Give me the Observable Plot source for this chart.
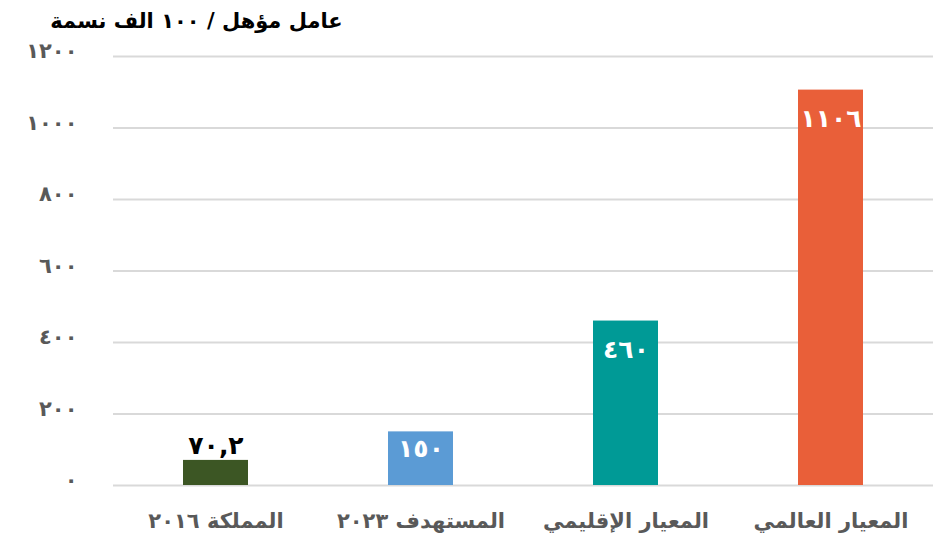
<!DOCTYPE html>
<html>
<head>
<meta charset="utf-8">
<script src="https://cdn.jsdelivr.net/npm/d3@7"></script>
<script src="https://cdn.jsdelivr.net/npm/@observablehq/plot@0.6"></script>
<style>
  html, body { margin: 0; padding: 0; background: #fff; }
  #chart svg { display: block; }
  .ytick text { letter-spacing: 4px; }
  .vlabel text { letter-spacing: 3px; }
</style>
</head>
<body>
<div id="chart"></div>
<script>
const categories = ["المملكة ٢٠١٦", "المستهدف ٢٠٢٣", "المعيار الإقليمي", "المعيار العالمي"];
const values = [70.2, 150, 460, 1106];
const valueLabels = ["٧٠,٢", "١٥٠", "٤٦٠", "١١٠٦"];
const colors = ["#3c5624", "#5b9bd5", "#009a96", "#e95f39"];
const yTicks = [0, 200, 400, 600, 800, 1000, 1200];
const yTickLabels = ["٠", "٢٠٠", "٤٠٠", "٦٠٠", "٨٠٠", "١٠٠٠", "١٢٠٠"];
const title = "عامل مؤهل / ١٠٠ الف نسمة";

const data = categories.map((c, i) => ({ cat: c, value: values[i], label: valueLabels[i], color: colors[i] }));
const font = "'DejaVu Sans', sans-serif";

const chart = Plot.plot({
  width: 933,
  height: 542,
  marginLeft: 113,
  marginRight: 0,
  marginTop: 56,
  marginBottom: 57,
  style: { fontFamily: font, background: "#fff", overflow: "visible" },
  x: { domain: categories, paddingInner: 0.683, paddingOuter: 0.3415, align: 0.5, label: null },
  y: { domain: [0, 1200], label: null },
  marks: [
    Plot.ruleY(yTicks, { stroke: "#d9d9d9", strokeWidth: 2 }),
    Plot.axisY({
      ticks: yTicks,
      tickFormat: d => yTickLabels[yTicks.indexOf(d)],
      tickSize: 0,
      tickPadding: 36,
      dy: -5,
      fontSize: 21,
      fontWeight: "bold",
      fill: "#595959",
      label: null,
      className: "ytick"
    }),
    Plot.axisX({
      tickSize: 0,
      tickPadding: 28,
      fontSize: 21,
      fontWeight: "bold",
      fill: "#595959",
      label: null
    }),
    Plot.barY(data, { x: "cat", y: "value", fill: "color" }),
    Plot.text(data.filter((d, i) => i === 0), {
      x: "cat", y: "value", text: "label",
      lineAnchor: "bottom", dy: -6,
      fontSize: 25, fontWeight: "bold", fill: "#000", className: "vlabel"
    }),
    Plot.text(data.filter((d, i) => i === 1), {
      x: "cat", y: "value", text: "label",
      lineAnchor: "top", dy: 7,
      fontSize: 25, fontWeight: "bold", fill: "#fff", className: "vlabel"
    }),
    Plot.text(data.filter((d, i) => i >= 2), {
      x: "cat", y: "value", text: "label",
      lineAnchor: "top", dy: 19,
      fontSize: 25, fontWeight: "bold", fill: "#fff", className: "vlabel"
    }),
    Plot.text([title], {
      frameAnchor: "top-left", dx: 83, dy: -43,
      textAnchor: "middle", lineAnchor: "top",
      fontSize: 21, fontWeight: "bold", fill: "#000"
    })
  ]
});
document.getElementById("chart").appendChild(chart);
</script>
</body>
</html>
